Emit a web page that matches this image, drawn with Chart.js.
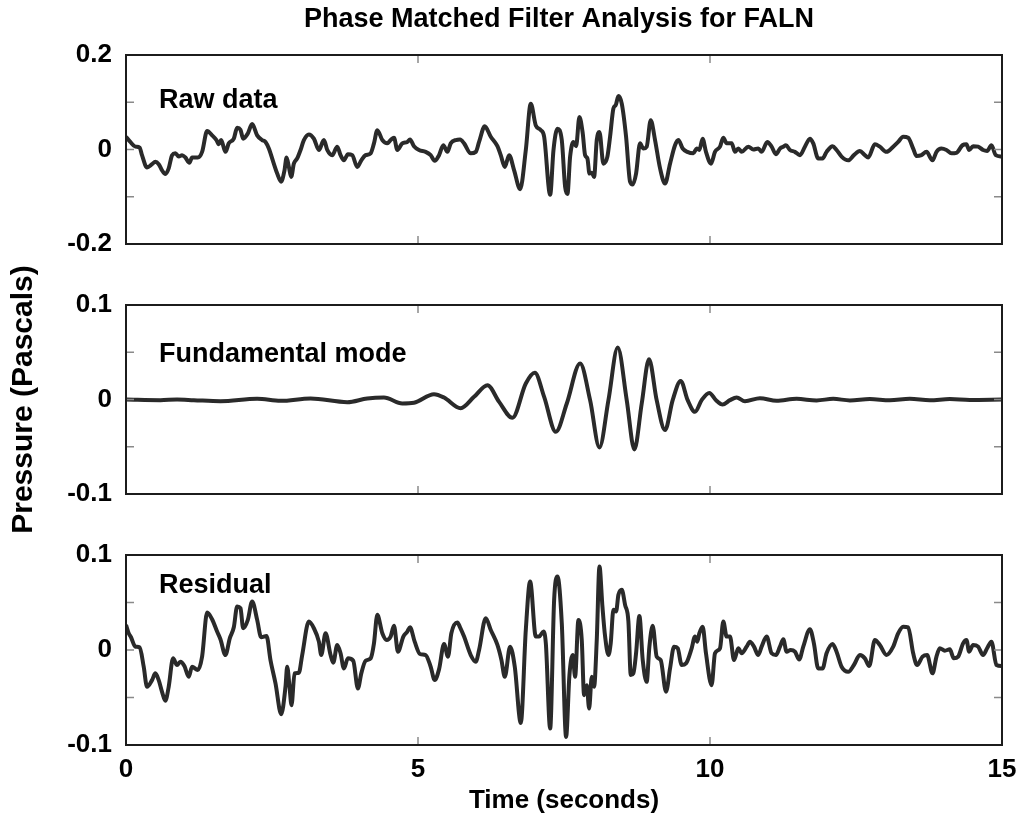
<!DOCTYPE html>
<html>
<head>
<meta charset="utf-8">
<title>Phase Matched Filter Analysis for FALN</title>
<script src="https://cdn.jsdelivr.net/npm/chart.js@4.4.1/dist/chart.umd.min.js"></script>
<style>
  body { margin: 0; background: #fff; }
  .wrap { position: relative; width: 1021px; height: 816px; }
  .wrap canvas { position: absolute; left: 0; top: 0; }
</style>
</head>
<body>
<div class="wrap">
  <canvas id="rawChart" width="1021" height="816"></canvas>
  <canvas id="fundChart" width="1021" height="816"></canvas>
  <canvas id="resChart" width="1021" height="816"></canvas>
</div>
<script>
// ---- data (time in s, pressure in Pa) ----
const figTitle = 'Phase Matched Filter Analysis for FALN'
const timeTitle = 'Time (seconds)'
const pressureTitle = 'Pressure (Pascals)'
const panelNames = ['Raw data', 'Fundamental mode', 'Residual']

const timeTicks = [0, 5, 10, 15]
const rawYTicks = [-0.2, -0.1, 0, 0.1, 0.2]
const rawYLabels = ['-0.2', '', '0', '', '0.2']
const smallYTicks = [-0.1, -0.05, 0, 0.05, 0.1]
const smallYLabels = ['-0.1', '', '0', '', '0.1']

const rawTime = [0, 0.074, 0.16, 0.234, 0.274, 0.36, 0.446, 0.503, 0.56, 0.617,
  0.674, 0.731, 0.789, 0.846, 0.903, 0.96, 1.017, 1.086, 1.131, 1.229,
  1.303, 1.389, 1.474, 1.549, 1.589, 1.629, 1.703, 1.76, 1.846, 1.903,
  1.96, 2.006, 2.086, 2.16, 2.246, 2.331, 2.389, 2.446, 2.531, 2.589,
  2.657, 2.714, 2.749, 2.789, 2.829, 2.874, 2.931, 2.989, 3.046, 3.131,
  3.217, 3.303, 3.389, 3.446, 3.531, 3.617, 3.674, 3.731, 3.8, 3.874,
  3.96, 4.029, 4.103, 4.189, 4.246, 4.303, 4.389, 4.474, 4.531, 4.589,
  4.646, 4.731, 4.817, 4.863, 4.931, 5.017, 5.131, 5.217, 5.286, 5.36,
  5.434, 5.503, 5.56, 5.646, 5.72, 5.789, 5.903, 5.989, 6.046, 6.143,
  6.246, 6.36, 6.417, 6.486, 6.56, 6.646, 6.749, 6.846, 6.931, 7.017,
  7.103, 7.16, 7.263,
  7.32, 7.388, 7.462, 7.519, 7.559, 7.605, 7.662, 7.707, 7.764, 7.821,
  7.861, 7.901, 7.936, 7.976, 8.015, 8.061, 8.107, 8.175, 8.243, 8.289,
  8.346, 8.386, 8.432, 8.489, 8.563, 8.631, 8.677, 8.734, 8.802, 8.859,
  8.916, 8.985, 9.059, 9.145, 9.23, 9.316, 9.401, 9.458, 9.532, 9.612,
  9.715, 9.772, 9.817, 9.874, 9.931, 10.017, 10.085, 10.171, 10.228, 10.285,
  10.371, 10.428, 10.485, 10.542, 10.656, 10.741, 10.827, 10.884, 10.981, 11.055,
  11.129, 11.198, 11.255, 11.3, 11.369, 11.454, 11.54, 11.625, 11.711, 11.768,
  11.853, 11.927, 11.996, 12.099, 12.167, 12.253, 12.367, 12.464, 12.566, 12.652,
  12.709, 12.823, 12.908, 13.022, 13.137, 13.222, 13.308, 13.393, 13.479, 13.536,
  13.621, 13.707, 13.81, 13.878, 13.963, 14.049, 14.135, 14.22, 14.323, 14.391,
  14.437, 14.505, 14.591, 14.676, 14.745, 14.819, 14.893, 15]
const rawPa = [0.027, 0.016, 0.006, 0.004, -0.012, -0.038, -0.031, -0.026, -0.031, -0.044,
  -0.052, -0.040, -0.012, -0.008, -0.015, -0.012, -0.017, -0.028, -0.017, -0.017,
  -0.005, 0.039, 0.030, 0.020, 0.011, 0.020, -0.005, 0.013, 0.023, 0.046,
  0.042, 0.023, 0.034, 0.054, 0.030, 0.020, 0.016, 0.002, -0.030, -0.051,
  -0.068, -0.044, -0.017, -0.037, -0.058, -0.030, -0.019, -0.001, 0.020, 0.032,
  0.023, -0.001, 0.020, -0.001, -0.012, 0.006, -0.012, -0.023, -0.010, -0.012,
  -0.037, -0.023, -0.012, -0.008, 0.013, 0.041, 0.020, 0.013, 0.020, 0.025,
  -0.001, 0.013, 0.016, 0.021, 0.007, -0.001, -0.005, -0.012, -0.024, -0.012,
  0.009, -0.005, 0.013, 0.020, 0.021, 0.013, -0.008, -0.005, 0.016, 0.049,
  0.027, 0.007, -0.012, -0.037, -0.012, -0.044, -0.084, -0.001, 0.097, 0.051,
  0.041, 0.027, -0.096,
  -0.001, 0.044, 0.020, -0.079, -0.094, -0.015, 0.016, 0.007, 0.069, 0.034,
  -0.012, -0.019, -0.051, -0.049, -0.058, 0.020, 0.037, -0.030, -0.015, 0.027,
  0.087, 0.094, 0.113, 0.097, 0.027, -0.068, -0.074, -0.051, 0.013, 0.002,
  0.006, 0.062, 0.020, -0.040, -0.072, -0.030, 0.009, 0.020, 0.002, -0.005,
  -0.008, 0.002, -0.001, 0.023, -0.005, -0.030, -0.005, 0.006, 0.025, 0.013,
  0.013, -0.005, 0.002, -0.005, 0.006, 0, 0.002, -0.005, 0.016, 0.006,
  -0.010, 0.002, 0.006, 0.009, -0.001, -0.005, -0.012, 0.006, 0.023, 0.013,
  -0.019, -0.019, -0.005, 0.007, -0.001, -0.015, -0.023, -0.012, -0.003, -0.012,
  -0.017, 0.011, 0.006, -0.005, 0.006, 0.016, 0.027, 0.025, 0.002, -0.014,
  -0.012, -0.005, -0.023, -0.005, 0.002, -0.001, -0.008, -0.007, 0.009, 0.011,
  -0.001, 0.007, 0.006, -0.001, -0.003, 0.009, -0.012, -0.015]

const fundTime = [0, 0.589, 0.874, 1.16, 1.617, 2.246, 2.646, 3.16, 3.789, 4.131,
  4.417, 4.731, 4.931, 5.274, 5.446, 5.731, 5.96, 6.189, 6.389, 6.617,
  6.846, 7.0, 7.16, 7.36, 7.548, 7.776, 7.947, 8.107, 8.261, 8.42,
  8.574, 8.705, 8.831, 8.956, 9.087, 9.23, 9.361, 9.498, 9.618, 9.743,
  9.857, 9.988, 10.103, 10.217, 10.342, 10.456, 10.599, 10.855, 11.14, 11.483,
  11.825, 12.11, 12.395, 12.737, 13.08, 13.422, 13.764, 14.106, 14.448, 15]
const fundPa = [0, -0.0007, 0, -0.0007, -0.0018, 0.0007, -0.0014, 0.0011, -0.0028, 0.0011,
  0.0021, -0.0042, -0.0035, 0.0056, 0.0021, -0.0092, 0.0028, 0.0151, -0.0025, -0.0194,
  0.0169, 0.0282, 0.0028, -0.0342, -0.0042, 0.038, -0.0007, -0.0507, -0.0007, 0.0549,
  -0.0007, -0.0528, -0.0042, 0.0426, -0.0007, -0.0324, -0.0007, 0.0197, -0.0007, -0.013,
  -0.0007, 0.007, -0.0007, -0.0053, -0.0007, 0.0021, -0.0018, 0.0014, -0.0014, 0.0007,
  -0.001, 0.0007, -0.001, 0.0004, -0.0007, 0.0007, -0.0007, 0.0004, -0.0004, 0]

const resTime = [0, 0.046, 0.086, 0.16, 0.234, 0.303, 0.36, 0.446, 0.503, 0.56,
  0.617, 0.674, 0.731, 0.806, 0.874, 0.931, 1.0, 1.074, 1.131, 1.229,
  1.303, 1.389, 1.474, 1.56, 1.617, 1.703, 1.777, 1.846, 1.903, 1.96,
  2.006, 2.086, 2.16, 2.246, 2.314, 2.406, 2.474, 2.56, 2.657, 2.731,
  2.76, 2.8, 2.834, 2.886, 2.96, 3.017, 3.131, 3.217, 3.303, 3.343,
  3.417, 3.503, 3.549, 3.617, 3.674, 3.731, 3.8, 3.891, 3.971, 4.029,
  4.103, 4.189, 4.246, 4.303, 4.389, 4.463, 4.531, 4.589, 4.657, 4.749,
  4.817, 4.863, 4.943, 5.034, 5.131, 5.217, 5.286, 5.36, 5.446, 5.514,
  5.571, 5.674, 5.72, 5.789, 5.903, 5.989, 6.046, 6.16, 6.246, 6.36,
  6.429, 6.486, 6.577, 6.657, 6.76, 6.846, 6.92, 7.017, 7.074, 7.149,
  7.189, 7.263,
  7.331, 7.388, 7.462, 7.536, 7.593, 7.65, 7.69, 7.747, 7.804, 7.844,
  7.89, 7.93, 7.976, 8.015, 8.061, 8.107, 8.158, 8.204, 8.261, 8.3,
  8.346, 8.392, 8.432, 8.489, 8.546, 8.603, 8.643, 8.688, 8.734, 8.791,
  8.848, 8.916, 8.962, 9.019, 9.087, 9.156, 9.247, 9.316, 9.384, 9.447,
  9.515, 9.589, 9.686, 9.743, 9.783, 9.817, 9.874, 9.931, 10.028, 10.085,
  10.171, 10.228, 10.285, 10.342, 10.411, 10.485, 10.542, 10.627, 10.684, 10.753,
  10.827, 10.884, 10.97, 11.055, 11.129, 11.198, 11.255, 11.312, 11.38, 11.454,
  11.528, 11.597, 11.711, 11.779, 11.853, 11.927, 11.996, 12.099, 12.167, 12.253,
  12.367, 12.464, 12.566, 12.652, 12.726, 12.823, 12.908, 13.022, 13.137, 13.222,
  13.308, 13.393, 13.479, 13.547, 13.639, 13.718, 13.81, 13.878, 13.935, 14.021,
  14.106, 14.175, 14.249, 14.334, 14.391, 14.437, 14.505, 14.591, 14.676, 14.745,
  14.819, 14.905, 15]
const resPa = [0.0264, 0.0176, 0.0134, 0.0035, 0.0028, -0.0176, -0.0387, -0.0317, -0.0246, -0.0317,
  -0.044, -0.0535, -0.0387, -0.0088, -0.0158, -0.0123, -0.0169, -0.0282, -0.0176, -0.0211,
  -0.007, 0.0394, 0.0324, 0.0194, 0.0113, -0.0053, 0.0123, 0.0239, 0.0458, 0.044,
  0.0229, 0.0317, 0.0511, 0.0317, 0.0134, 0.0148, -0.0106, -0.0352, -0.0676, -0.0387,
  -0.0176, -0.0387, -0.0581, -0.0246, -0.0239, -0.0053, 0.0299, 0.0229, 0.0088, -0.0053,
  0.0176, -0.0053, -0.0134, 0.0053, -0.0035, -0.0194, -0.0088, -0.0113, -0.0405, -0.0246,
  -0.0113, -0.0088, 0.007, 0.037, 0.0176, 0.0106, 0.0141, 0.0254, -0.0018, 0.0141,
  0.0194, 0.0239, 0.0088, -0.0042, -0.0053, -0.0176, -0.0317, -0.0204, 0.0063, -0.007,
  0.0176, 0.0289, 0.0239, 0.0141, -0.0053, -0.0123, 0, 0.0335, 0.0211, 0.0053,
  -0.0106, -0.0282, 0.0035, -0.0176, -0.0768, 0.0211, 0.0722, 0.0141, 0.0141, 0.0194,
  0.007, -0.0827,
  0.0528, 0.0775, 0.0282, -0.0915, -0.0264, -0.0053, -0.0282, 0.0317, 0.0106, -0.0475,
  -0.037, -0.0616, -0.0282, -0.0387, 0.0106, 0.088, 0.0458, 0.0141, -0.0053, 0.007,
  0.0423, 0.0405, 0.0581, 0.0634, 0.0475, 0.0299, -0.0264, -0.0246, -0.0035, 0.0359,
  -0.0106, -0.0335, 0.0035, 0.0254, -0.007, -0.0106, -0.044, -0.0194, 0.0035, 0.0018,
  -0.0158, -0.0141, 0.0018, 0.0141, 0.0088, 0.0176, 0.0246, -0.0035, -0.037, -0.0035,
  0.0018, 0.0299, 0.0141, 0.0141, -0.0106, 0.0018, -0.0035, 0.0035, 0.0088, 0.0035,
  -0.0053, 0.0035, 0.0141, -0.0035, -0.0053, 0.0035, 0.0113, -0.0018, 0, -0.0018,
  -0.0099, 0.0035, 0.0218, 0.007, -0.0194, -0.0194, -0.0035, 0.0063, -0.0018, -0.0176,
  -0.0229, -0.0158, -0.0053, -0.0088, -0.0169, 0.0106, 0.0053, -0.0053, 0.0035, 0.0176,
  0.0246, 0.0239, -0.0035, -0.0158, -0.007, -0.0053, -0.0246, -0.007, 0.0018, -0.0007,
  0.0007, -0.0088, -0.007, 0.007, 0.0106, -0.0018, 0.0053, 0.0035, -0.0053, 0.0018,
  0.0088, -0.0158, -0.0169]

// ---- look ----
const fontFamily = '"Liberation Sans", Arial, Helvetica, sans-serif'
Chart.defaults.font.family = fontFamily
Chart.defaults.color = '#000'
const lineColor = '#2a2a2a'
const tickFont = { size: 26, weight: 'bold' }

// box round the plot area, ticks pointing inwards, panel label
const framePlugin = {
  id: 'frame',
  afterDraw(chart, args, opts) {
    const { ctx, chartArea: a, scales } = chart
    ctx.save()
    ctx.strokeStyle = '#8a8a8a'
    ctx.lineWidth = 1.5
    ctx.beginPath()
    scales.y.ticks.forEach(t => {
      const py = scales.y.getPixelForValue(t.value)
      ctx.moveTo(a.left, py); ctx.lineTo(a.left + 8, py)
      ctx.moveTo(a.right, py); ctx.lineTo(a.right - 8, py)
    })
    timeTicks.forEach(v => {
      const px = scales.x.getPixelForValue(v)
      ctx.moveTo(px, a.top); ctx.lineTo(px, a.top + 8)
      ctx.moveTo(px, a.bottom); ctx.lineTo(px, a.bottom - 8)
    })
    ctx.stroke()

    ctx.strokeStyle = '#1c1c1c'
    ctx.lineWidth = 2
    ctx.strokeRect(a.left, a.top, a.right - a.left, a.bottom - a.top)

    ctx.fillStyle = '#000'
    ctx.font = 'bold 27px ' + fontFamily
    ctx.textAlign = 'left'
    ctx.textBaseline = 'alphabetic'
    ctx.fillText(opts.label, a.left + 33, a.top + opts.labelDrop)
    if (opts.figTitle) {
      ctx.textAlign = 'center'
      ctx.fillText(opts.figTitle, 559, 27)
    }
    ctx.restore()
  }
}

function makePanel(canvasId, times, values, yTicks, yLabels, opts) {
  const points = times.map((t, i) => ({ x: t, y: values[i] }))
  const showX = !!opts.showX
  return new Chart(document.getElementById(canvasId), {
    type: 'line',
    data: {
      datasets: [{
        data: points,
        borderColor: lineColor,
        borderWidth: 4,
        pointRadius: 0,
        fill: false,
        cubicInterpolationMode: 'monotone'
      }]
    },
    options: {
      responsive: false,
      animation: false,
      events: [],
      layout: { padding: { top: opts.top, bottom: opts.bottom, left: 0, right: 19 } },
      scales: {
        x: {
          type: 'linear',
          min: 0,
          max: 15,
          display: showX,
          afterBuildTicks: s => { s.ticks = timeTicks.map(v => ({ value: v })) },
          afterFit: s => {
            if (showX) s.height = 71
            // "15" may hang past the box, do not shrink the plot for it
            s.paddingLeft = 0
            s.paddingRight = 0
          },
          grid: { display: false, drawTicks: false },
          border: { display: false },
          ticks: { padding: 9, font: tickFont, maxRotation: 0, autoSkip: false, callback: v => String(v) },
          title: { display: showX, text: timeTitle, font: tickFont, padding: { top: 0, bottom: 0 } }
        },
        y: {
          min: yTicks[0],
          max: yTicks[yTicks.length - 1],
          afterBuildTicks: s => { s.ticks = yTicks.map(v => ({ value: v })) },
          afterFit: s => { s.width = 126 },
          grid: { display: false, drawTicks: false },
          border: { display: false },
          ticks: { padding: 14, font: tickFont, autoSkip: false, callback: (v, i) => yLabels[i] },
          title: {
            display: !!opts.yTitle,
            text: pressureTitle,
            font: { size: 30, weight: 'bold' },
            padding: { top: 6, bottom: 0 }
          }
        }
      },
      plugins: {
        legend: { display: false },
        tooltip: { enabled: false },
        frame: { label: opts.label, labelDrop: opts.labelDrop, figTitle: opts.figTitle }
      }
    },
    plugins: [framePlugin]
  })
}

makePanel('rawChart', rawTime, rawPa, rawYTicks, rawYLabels,
  { top: 55, bottom: 572, label: panelNames[0], labelDrop: 53, figTitle: figTitle })
makePanel('fundChart', fundTime, fundPa, smallYTicks, smallYLabels,
  { top: 305, bottom: 322, label: panelNames[1], labelDrop: 57, yTitle: true })
makePanel('resChart', resTime, resPa, smallYTicks, smallYLabels,
  { top: 555, bottom: 0, label: panelNames[2], labelDrop: 38, showX: true })
</script>
</body>
</html>
